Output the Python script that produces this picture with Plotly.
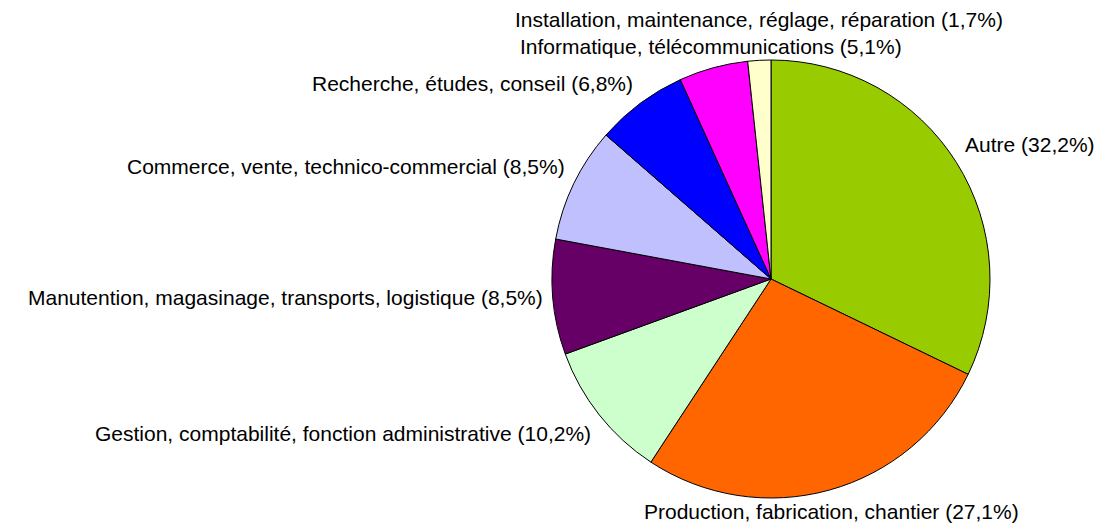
import math
import plotly.graph_objects as go

labels = [
    "Autre",
    "Production, fabrication, chantier",
    "Gestion, comptabilité, fonction administrative",
    "Manutention, magasinage, transports, logistique",
    "Commerce, vente, technico-commercial",
    "Recherche, études, conseil",
    "Informatique, télécommunications",
    "Installation, maintenance, réglage, réparation",
]
values = [32.2, 27.1, 10.2, 8.5, 8.5, 6.8, 5.1, 1.7]
colors = ["#99CC00", "#FF6600", "#CCFFCC", "#660066",
          "#C0C0FF", "#0000FF", "#FF00FF", "#FFFFCC"]

W, H = 1103, 525
FONT = dict(family="Liberation Sans, Arial, sans-serif", size=21, color="#000000")

# pie placement in pixels (page body adds an 8px offset)
off = 8
cx, cy, r = 771 - off, 279 - off, 219

fig = go.Figure(go.Pie(
    labels=labels,
    values=values,
    marker=dict(colors=colors, line=dict(color="#000000", width=1)),
    sort=False,
    direction="clockwise",
    rotation=0,
    textinfo="none",
    hoverinfo="label+percent",
    domain=dict(x=[(cx - r) / W, (cx + r) / W], y=[1 - (cy + r) / H, 1 - (cy - r) / H]),
))

# outside labels, placed from each slice's mid angle
total = sum(values)
cum = 0
placed = []
line_h = 27
for lab, v in zip(labels, values):
    mid = (cum + v / 2) / total * 2 * math.pi
    cum += v
    s, c = math.sin(mid), math.cos(mid)
    px = cx + (r + 8) * s
    py = cy - (r + 8) * c
    xa = "left" if s > 0.3 else ("right" if s < -0.3 else "center")
    ya = "bottom" if c > 0.3 else ("top" if c < -0.3 else "middle")
    text = f"{lab} ({v:.1f}%)".replace(".", ",")
    wtxt = len(text) * 10
    x0 = px if xa == "left" else (px - wtxt if xa == "right" else px - wtxt / 2)
    if ya == "bottom":
        y0 = py - line_h
    elif ya == "top":
        y0 = py
    else:
        y0 = py - line_h / 2
    # push label upward if it collides with one already placed
    moved = True
    while moved:
        moved = False
        for bx0, by0 in placed:
            if abs(x0 - bx0) < wtxt and abs(y0 - by0) < line_h - 2:
                shift = y0 - (by0 - line_h)
                y0 -= shift
                py -= shift
                moved = True
    placed.append((x0, y0))
    fig.add_annotation(
        x=px / W, y=1 - py / H, xref="paper", yref="paper",
        text=text, showarrow=False, xanchor=xa, yanchor=ya,
        font=FONT,
    )

fig.update_layout(
    width=W, height=H,
    margin=dict(l=0, r=0, t=0, b=0),
    paper_bgcolor="#FFFFFF",
    plot_bgcolor="#FFFFFF",
    showlegend=False,
    font=FONT,
)

fig.write_html("out.html")
